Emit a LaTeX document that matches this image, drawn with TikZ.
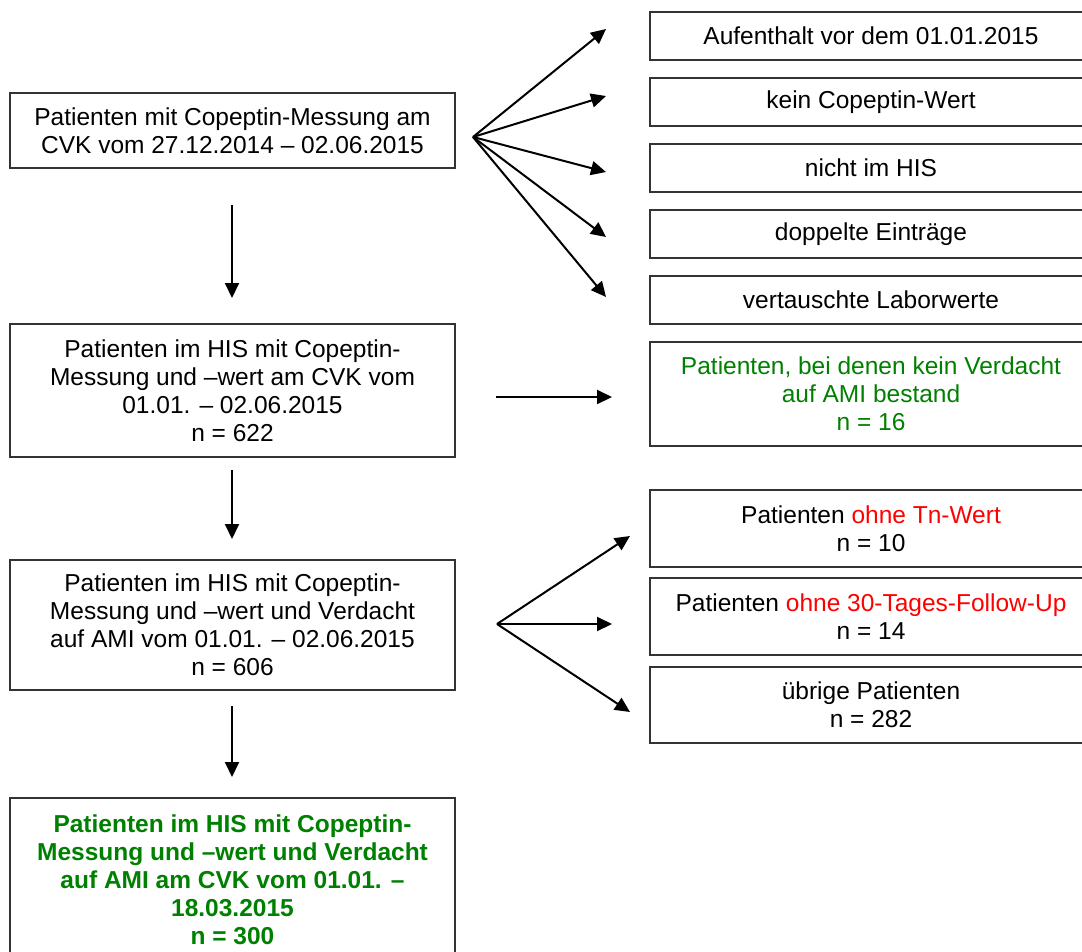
\documentclass[tikz,border=0pt]{standalone}
\usepackage{fontspec}
\setmainfont{Liberation Sans}
\usetikzlibrary{arrows.meta}
\definecolor{grn}{RGB}{0,128,0}
\definecolor{rd}{RGB}{255,0,0}
\begin{document}
\begin{tikzpicture}[x=1pt,y=-1pt,
  box/.style={draw=black!80, line width=1.3pt, align=center, inner sep=0pt, font=\fontsize{24.5}{28}\selectfont},
  lbox/.style={box, minimum width=445pt},
  rbox/.style={box, minimum width=442pt},
  arr/.style={line width=2pt, -{Triangle[length=15pt,width=14pt]}}]
\useasboundingbox (0,0) rectangle (1082,951);
% left column
\node[lbox, minimum height=75pt] (A) at (232.5,130.5) {Patienten mit Copeptin-Messung am\\CVK vom 27.12.2014 – 02.06.2015};
\node[lbox, minimum height=133pt] (B) at (232.5,390.5) {Patienten im HIS mit Copeptin-\\Messung und –wert am CVK vom\\01.01. – 02.06.2015\\n = 622};
\node[lbox, minimum height=130pt] (C) at (232.5,625) {Patienten im HIS mit Copeptin-\\Messung und –wert und Verdacht\\auf AMI vom 01.01. – 02.06.2015\\n = 606};
\node[lbox, minimum height=164pt, text=grn, font=\fontsize{24.5}{28}\selectfont\bfseries] (D) at (232.5,880) {Patienten im HIS mit Copeptin-\\Messung und –wert und Verdacht\\auf AMI am CVK vom 01.01. –\\18.03.2015\\n = 300};
% right column
\node[rbox, minimum height=48pt] (R1) at (871,36) {Aufenthalt vor dem 01.01.2015};
\node[rbox, minimum height=48pt] (R2) at (871,102) {kein Copeptin-Wert};
\node[rbox, minimum height=48pt] (R3) at (871,168) {nicht im HIS};
\node[rbox, minimum height=48pt] (R4) at (871,234) {doppelte Einträge};
\node[rbox, minimum height=48pt] (R5) at (871,300) {vertauschte Laborwerte};
\node[rbox, minimum height=104pt, text=grn] (E) at (871,394) {Patienten, bei denen kein Verdacht\\auf AMI bestand\\n = 16};
\node[rbox, minimum height=77pt] (F) at (871,528.5) {Patienten \textcolor{rd}{ohne Tn-Wert}\\n = 10};
\node[rbox, minimum height=77pt] (G) at (871,616.5) {Patienten \textcolor{rd}{ohne 30-Tages-Follow-Up}\\n = 14};
\node[rbox, minimum height=76pt] (H) at (871,705) {übrige Patienten\\n = 282};
% connector coordinates
\coordinate (o1) at (473,137);
\coordinate (t1) at (606,29);
\coordinate (t2) at (606,96);
\coordinate (t3) at (606,172);
\coordinate (t4) at (606,237);
\coordinate (t5) at (606,297);
\coordinate (v1s) at (232,205);
\coordinate (v1e) at (232,298);
\coordinate (v2s) at (232,470);
\coordinate (v2e) at (232,539);
\coordinate (v3s) at (232,706);
\coordinate (v3e) at (232,777);
\coordinate (hs) at (496,397);
\coordinate (he) at (612,397);
\coordinate (o2) at (497,624);
\coordinate (u1) at (630,536);
\coordinate (u2) at (612,624);
\coordinate (u3) at (630,712);
% connectors
\foreach \t in {t1,t2,t3,t4,t5} \draw[arr] (o1) -- (\t);
\draw[arr] (v1s) -- (v1e);
\draw[arr] (v2s) -- (v2e);
\draw[arr] (v3s) -- (v3e);
\draw[arr] (hs) -- (he);
\foreach \t in {u1,u2,u3} \draw[arr] (o2) -- (\t);
\end{tikzpicture}
\end{document}
